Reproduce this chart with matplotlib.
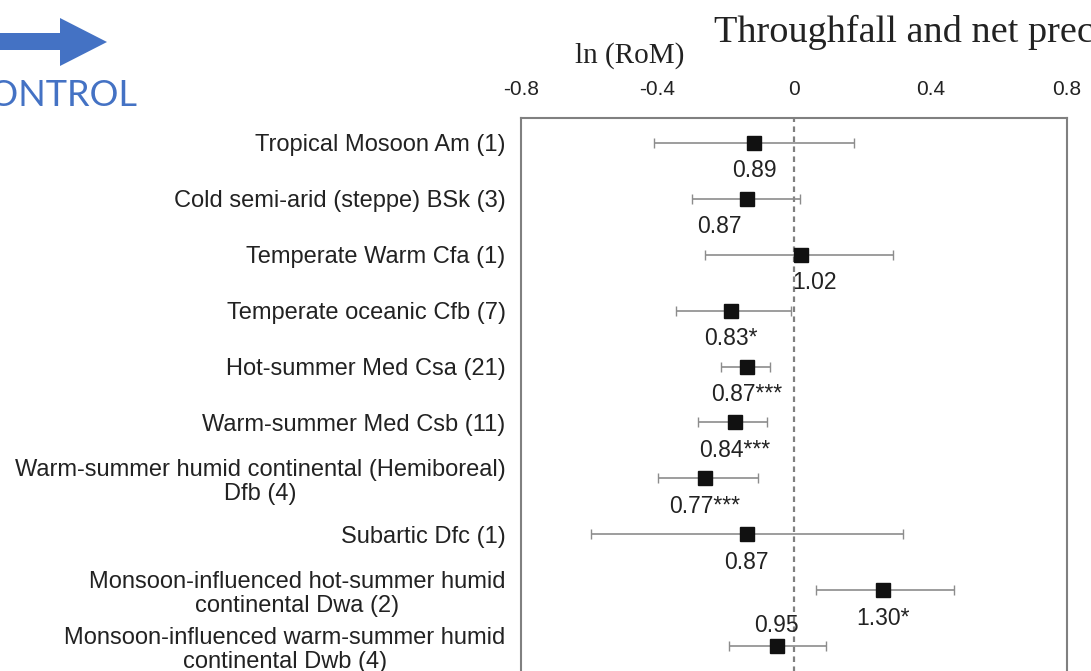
import numpy as np
import matplotlib
matplotlib.use('Agg')
import matplotlib.pyplot as plt
from matplotlib.patches import Polygon

# climate classes (number of studies)
categories = [
    'Tropical Mosoon Am (1)',
    'Cold semi-arid (steppe) BSk (3)',
    'Temperate Warm Cfa (1)',
    'Temperate oceanic Cfb (7)',
    'Hot-summer Med Csa (21)',
    'Warm-summer Med Csb (11)',
    'Warm-summer humid continental (Hemiboreal)\nDfb (4)',
    'Subartic Dfc (1)',
    'Monsoon-influenced hot-summer humid\ncontinental Dwa (2)',
    'Monsoon-influenced warm-summer humid\ncontinental Dwb (4)',
]
# ln(RoM) and 95% CI
lnrom = [-0.117, -0.139, 0.020, -0.186, -0.139, -0.174, -0.261, -0.139, 0.262, -0.051]
ci_low = [-0.41, -0.30, -0.26, -0.345, -0.214, -0.28, -0.40, -0.595, 0.065, -0.19]
ci_high = [0.176, 0.018, 0.29, -0.01, -0.07, -0.08, -0.105, 0.32, 0.47, 0.094]
rom_labels = ['0.89', '0.87', '1.02', '0.83*', '0.87***', '0.84***', '0.77***', '0.87', '1.30*', '0.95']
xticks = [-0.8, -0.4, 0, 0.4, 0.8]
xtick_labels = ['-0.8', '-0.4', '0', '0.4', '0.8']

# label layout tweaks (x shift in data units, y shift in rows)
lab_dx = [0, -0.08, 0.04, 0, 0, 0, 0, 0, 0, 0]
lab_dy = [0.5, 0.5, 0.5, 0.5, 0.5, 0.5, 0.5, 0.5, 0.5, -0.36]

sans = 'Liberation Sans'
serif = 'Liberation Serif'
blue = '#4472C4'
grey = '#808080'
txt = '#222222'

W, H = 1091, 671
fig = plt.figure(figsize=(W / 100, H / 100), dpi=100)

top_px, bot_px = 118, 720
ax = fig.add_axes([521 / W, 1 - bot_px / H, (1067 - 521) / W, (bot_px - top_px) / H])

y = np.arange(len(categories))
lnrom = np.array(lnrom)
err = [lnrom - np.array(ci_low), np.array(ci_high) - lnrom]

ax.axvline(0, color=grey, lw=1.6, ls=(0, (2.5, 2)), zorder=1)
ax.errorbar(lnrom, y, xerr=err, fmt='s', color='#111111', ms=9.5,
            ecolor='#8c8c8c', elinewidth=1.2, capsize=3.5, capthick=1.0, zorder=3)

for i in range(len(categories)):
    ax.text(lnrom[i] + lab_dx[i], y[i] + lab_dy[i], rom_labels[i],
            ha='center', va='center', fontsize=16.5, family=sans, color=txt)

ax.set_xlim(-0.8, 0.8)
ax.set_ylim((bot_px - 646) / 55.9 + 9, -(143 - top_px) / 55.9)
ax.set_xticks(xticks)
ax.set_xticklabels(xtick_labels, fontsize=15, family=sans, color=txt)
ax.xaxis.tick_top()
ax.tick_params(axis='x', length=0, pad=14)
ax.set_yticks(y)
ax.set_yticklabels(categories, fontsize=17, family=sans, color=txt, linespacing=1.12)
for t in ax.get_yticklabels():
    t.set_multialignment('center')
ax.tick_params(axis='y', length=0, pad=11)
for s in ax.spines.values():
    s.set_color(grey)
    s.set_linewidth(1.5)

# overlay in pixel units for the header decorations
ov = fig.add_axes([0, 0, 1, 1], zorder=-1)
ov.set_xlim(0, W)
ov.set_ylim(H, 0)
ov.axis('off')
ov.add_patch(Polygon([[-5, 33], [60, 33], [60, 18], [107, 42], [60, 66], [60, 50], [-5, 50]],
                     closed=True, color=blue, lw=0))
ov.text(137, 96, 'CONTROL', ha='right', va='center', fontsize=26, family='Lato', color=blue)
ov.text(714, 32, 'Throughfall and net precipitation', ha='left', va='center',
        fontsize=27.5, family=serif, color=txt)
ov.text(630, 56, 'ln (RoM)', ha='center', va='center', fontsize=21, family=serif, color=txt)

fig.savefig('out.png', dpi=100, facecolor='white')
